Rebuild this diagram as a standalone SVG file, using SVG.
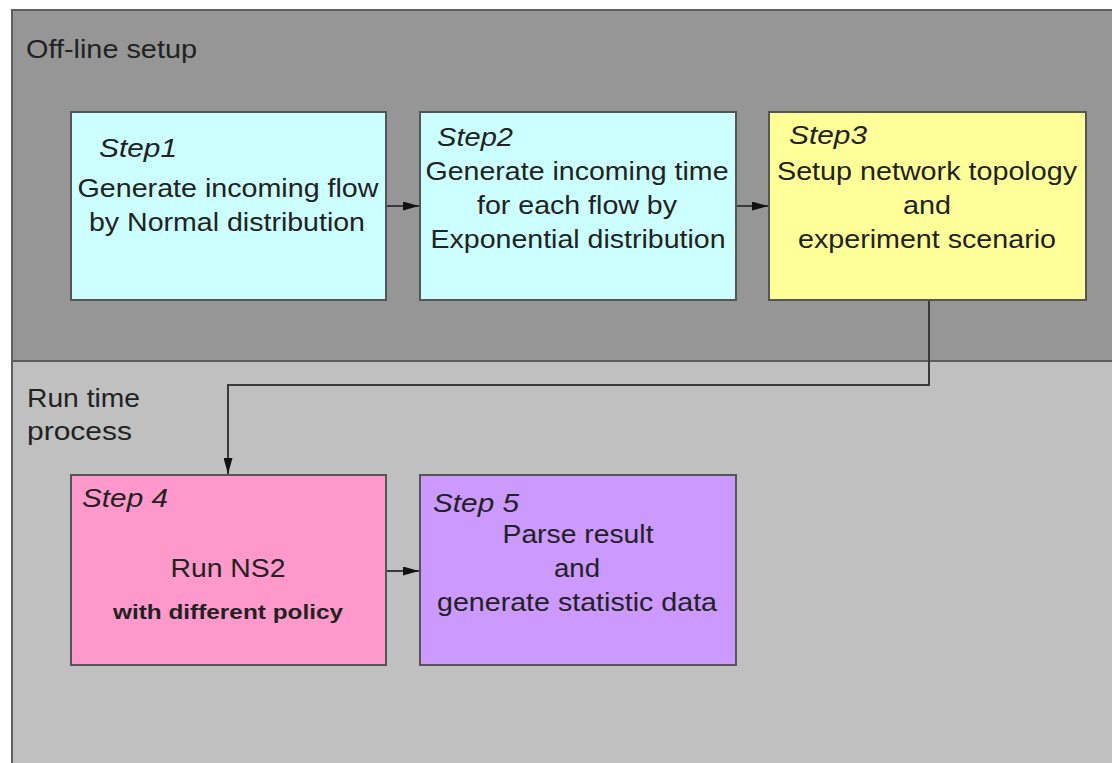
<svg xmlns="http://www.w3.org/2000/svg" width="1112" height="763" viewBox="0 0 1112 763">
  <defs>
    <style>
      .panel-top { fill: #969696; stroke: #5e5e5e; stroke-width: 2; }
      .panel-bot { fill: #c0c0c0; stroke: #5e5e5e; stroke-width: 2; }
      .box { stroke: #555555; stroke-width: 2; }
      .cyan { fill: #ccffff; }
      .yellow { fill: #ffff99; }
      .pink { fill: #ff99cc; }
      .violet { fill: #cc99ff; }
      text { font-family: "Liberation Sans", Arial, sans-serif; fill: #222222; }
      .lbl { font-size: 25px; }
      .mid { text-anchor: middle; }
      .step { font-size: 25px; font-style: italic; }
      .bold { font-size: 21px; font-weight: bold; }
      .wire { fill: none; stroke: #3a3a3a; stroke-width: 2; }
    </style>
    <marker id="arrow" viewBox="0 0 10 10" refX="10" refY="5" markerWidth="8" markerHeight="6" markerUnits="userSpaceOnUse" orient="auto" preserveAspectRatio="none">
      <path d="M0,0 L10,5 L0,10 z" fill="#111111"/>
    </marker>
    <marker id="arrowL" viewBox="0 0 10 10" refX="10" refY="5" markerWidth="16" markerHeight="9" markerUnits="userSpaceOnUse" orient="auto" preserveAspectRatio="none">
      <path d="M0,0 L10,5 L0,10 z" fill="#111111"/>
    </marker>
  </defs>

  <rect width="1112" height="763" fill="#ffffff"/>

  <!-- phase panels -->
  <g id="panel-offline">
    <rect class="panel-top" x="12" y="10" width="1110" height="351"/>
    <text class="lbl" x="26" y="58" textLength="171" lengthAdjust="spacingAndGlyphs">Off-line setup</text>
  </g>
  <g id="panel-runtime">
    <rect class="panel-bot" x="12" y="361" width="1110" height="412"/>
    <text class="lbl" x="27" y="407" textLength="113" lengthAdjust="spacingAndGlyphs">Run time</text>
    <text class="lbl" x="27" y="440" textLength="105" lengthAdjust="spacingAndGlyphs">process</text>
  </g>

  <!-- connectors -->
  <g id="connectors">
    <line class="wire" x1="386" y1="206" x2="419" y2="206" marker-end="url(#arrowL)"/>
    <line class="wire" x1="736" y1="206" x2="768" y2="206" marker-end="url(#arrowL)"/>
    <polyline class="wire" points="929,300 929,385 228,385 228,474" marker-end="url(#arrowL)"/>
    <line class="wire" x1="386" y1="571" x2="419" y2="571" marker-end="url(#arrowL)"/>
  </g>

  <g id="step1">
    <rect class="box cyan" x="71" y="112" width="315" height="188"/>
    <text class="step" x="99" y="157" textLength="78" lengthAdjust="spacingAndGlyphs">Step1</text>
    <text class="lbl mid" x="228" y="197" textLength="301" lengthAdjust="spacingAndGlyphs">Generate incoming flow</text>
    <text class="lbl mid" x="227" y="231" textLength="276" lengthAdjust="spacingAndGlyphs">by Normal distribution</text>
  </g>

  <g id="step2">
    <rect class="box cyan" x="420" y="112" width="316" height="188"/>
    <text class="step" x="437" y="146" textLength="76" lengthAdjust="spacingAndGlyphs">Step2</text>
    <text class="lbl mid" x="577" y="180" textLength="303" lengthAdjust="spacingAndGlyphs">Generate incoming time</text>
    <text class="lbl mid" x="577" y="214" textLength="200" lengthAdjust="spacingAndGlyphs">for each flow by</text>
    <text class="lbl mid" x="578" y="248" textLength="295" lengthAdjust="spacingAndGlyphs">Exponential distribution</text>
  </g>

  <g id="step3">
    <rect class="box yellow" x="769" y="112" width="317" height="188"/>
    <text class="step" x="789" y="144" textLength="78" lengthAdjust="spacingAndGlyphs">Step3</text>
    <text class="lbl mid" x="927" y="180" textLength="300" lengthAdjust="spacingAndGlyphs">Setup network topology</text>
    <text class="lbl mid" x="927" y="214" textLength="48" lengthAdjust="spacingAndGlyphs">and</text>
    <text class="lbl mid" x="927" y="248" textLength="258" lengthAdjust="spacingAndGlyphs">experiment scenario</text>
  </g>

  <g id="step4">
    <rect class="box pink" x="71" y="475" width="315" height="190"/>
    <text class="step" x="82" y="507" textLength="86" lengthAdjust="spacingAndGlyphs">Step 4</text>
    <text class="lbl mid" x="228" y="577" textLength="115" lengthAdjust="spacingAndGlyphs">Run NS2</text>
    <text class="bold mid" x="228" y="619" textLength="230" lengthAdjust="spacingAndGlyphs">with different policy</text>
  </g>

  <g id="step5">
    <rect class="box violet" x="420" y="475" width="316" height="190"/>
    <text class="step" x="433" y="512" textLength="86" lengthAdjust="spacingAndGlyphs">Step 5</text>
    <text class="lbl mid" x="578" y="543" textLength="151" lengthAdjust="spacingAndGlyphs">Parse result</text>
    <text class="lbl mid" x="577" y="577" textLength="46" lengthAdjust="spacingAndGlyphs">and</text>
    <text class="lbl mid" x="577" y="611" textLength="280" lengthAdjust="spacingAndGlyphs">generate statistic data</text>
  </g>
</svg>
